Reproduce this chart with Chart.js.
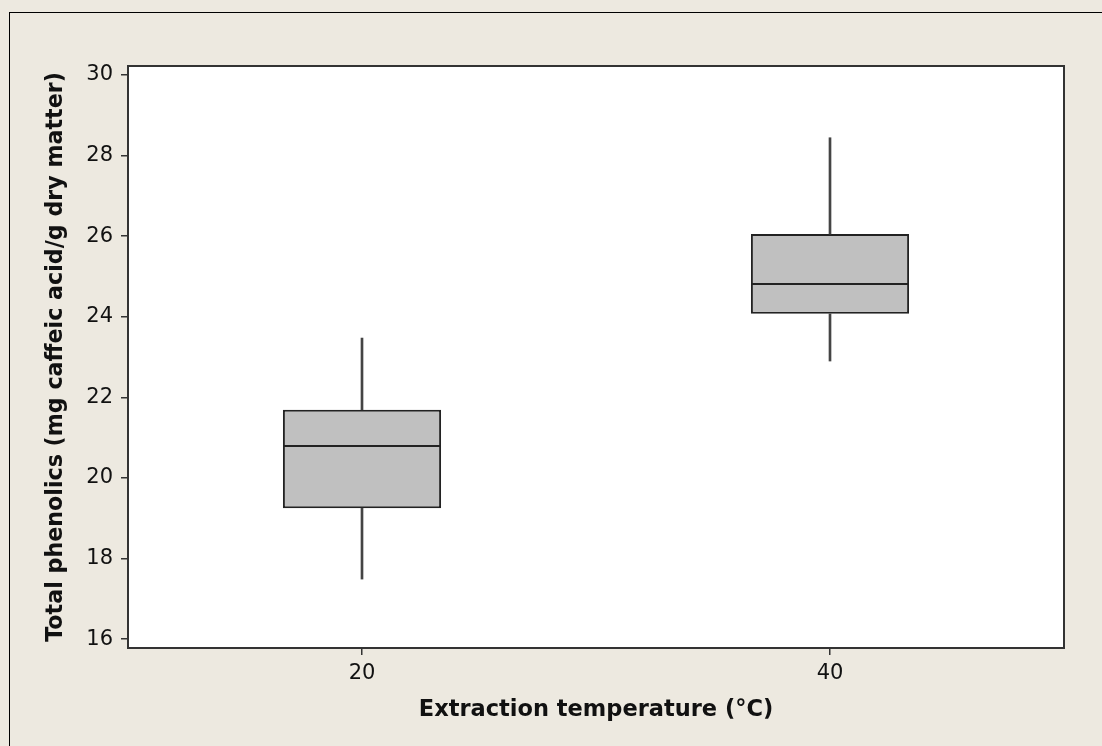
<!DOCTYPE html>
<html>
<head>
<meta charset="utf-8">
<script src="https://cdn.jsdelivr.net/npm/chart.js@4"></script>
<style>
  html, body { margin: 0; padding: 0; background: #EDE9E0; }
  #wrap { position: relative; width: 1102px; height: 746px; overflow: hidden; }
  #frame { position: absolute; left: 9px; top: 12px; width: 1200px; height: 800px;
           border-left: 1px solid #000; border-top: 1px solid #000; }
  canvas { position: absolute; left: 0; top: 0; }
</style>
</head>
<body>
<div id="wrap">
  <div id="frame"></div>
  <canvas id="boxChart" width="1102" height="746"></canvas>
</div>
<script>
// boxplot summary per extraction temperature
const temps = ['20', '40'];
const whiskerLow = [17.49, 22.90];
const q1 = [19.25, 24.07];
const median = [20.79, 24.81];
const q3 = [21.69, 26.05];
const whiskerHigh = [23.47, 28.44];
const yTicks = [16, 18, 20, 22, 24, 26, 28, 30];

const pair = (a, b) => a.map((v, i) => [v, b[i]]);

const fontFamily = '"DejaVu Sans", Verdana, sans-serif';
const axisColor = '#333';

// white plot area with a frame around it
const plotFrame = {
  id: 'plotFrame',
  beforeDatasetsDraw(chart) {
    const { ctx, chartArea: a } = chart;
    ctx.save();
    ctx.fillStyle = '#fff';
    ctx.fillRect(a.left, a.top, a.right - a.left, a.bottom - a.top);
    ctx.restore();
  },
  afterDatasetsDraw(chart) {
    const { ctx, chartArea: a } = chart;
    ctx.save();
    ctx.strokeStyle = axisColor;
    ctx.lineWidth = 2;
    ctx.strokeRect(a.left, a.top, a.right - a.left, a.bottom - a.top);
    ctx.restore();
  }
};

const whisker = {
  backgroundColor: '#444',
  borderWidth: 0,
  barThickness: 2,
  grouped: false
};
const box = {
  backgroundColor: '#C0C0C0',
  borderColor: '#222',
  borderSkipped: false,
  categoryPercentage: 1,
  barPercentage: 0.338,
  grouped: false
};

new Chart(document.getElementById('boxChart').getContext('2d'), {
  type: 'bar',
  data: {
    labels: temps,
    datasets: [
      { ...whisker, data: pair(whiskerLow, q1) },
      { ...whisker, data: pair(q3, whiskerHigh) },
      // the two halves share the median edge, so each draws half of it
      { ...box, borderWidth: { left: 2, right: 2, bottom: 2, top: 1 }, data: pair(q1, median) },
      { ...box, borderWidth: { left: 2, right: 2, bottom: 1, top: 2 }, data: pair(median, q3) }
    ]
  },
  options: {
    responsive: false,
    animation: false,
    events: [],
    layout: { padding: { left: 35, top: 66, right: 38, bottom: 18 } },
    plugins: { legend: { display: false }, tooltip: { enabled: false } },
    scales: {
      x: {
        offset: true,
        afterFit(scale) { scale.height = 80; },
        grid: { display: true, offset: false, drawOnChartArea: false, tickLength: 7, color: axisColor, lineWidth: 1.5 },
        border: { display: false },
        ticks: { color: '#111', padding: 6, font: { family: fontFamily, size: 21 } },
        title: {
          display: true,
          text: 'Extraction temperature (°C)',
          color: '#111',
          padding: { top: 0, bottom: 4 },
          font: { family: fontFamily, size: 22.5, weight: 'bold' }
        }
      },
      y: {
        min: 15.78,
        max: 30.22,
        afterFit(scale) { scale.width = 93; },
        afterBuildTicks(scale) { scale.ticks = yTicks.map(v => ({ value: v })); },
        grid: { display: true, drawOnChartArea: false, tickLength: 7, color: axisColor, lineWidth: 1.5 },
        border: { display: false },
        ticks: { color: '#111', padding: 8, font: { family: fontFamily, size: 21 } },
        title: {
          display: true,
          text: 'Total phenolics (mg caffeic acid/g dry matter)',
          color: '#111',
          padding: { top: 8, bottom: 0 },
          font: { family: fontFamily, size: 22.2, weight: 'bold' }
        }
      }
    }
  },
  plugins: [plotFrame]
});
</script>
</body>
</html>
